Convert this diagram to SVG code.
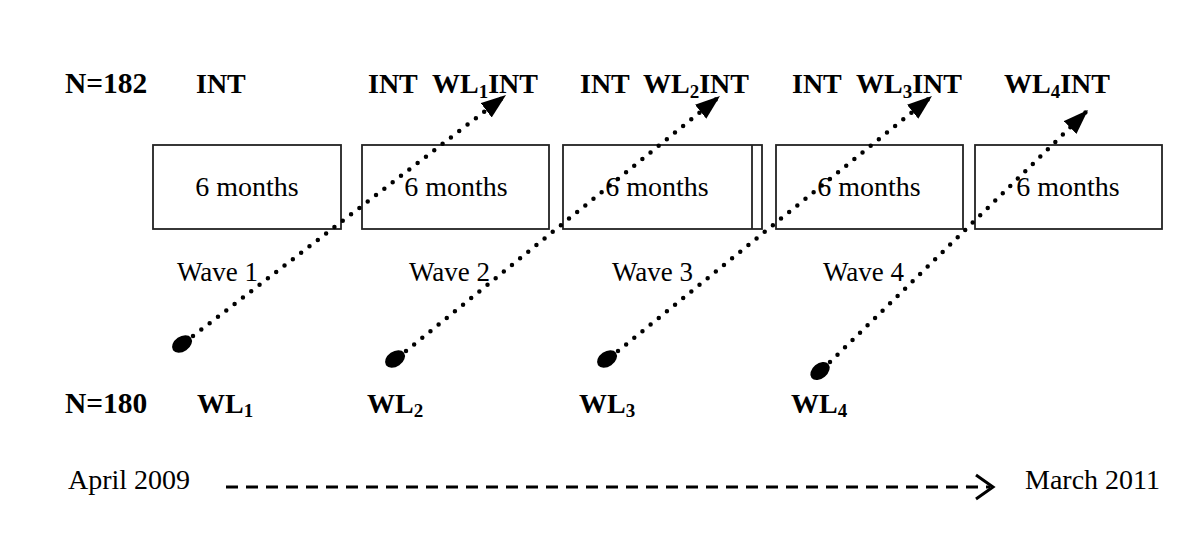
<svg xmlns="http://www.w3.org/2000/svg" width="1200" height="539" viewBox="0 0 1200 539">
<style>
.b{font-family:"Liberation Serif","Times New Roman",serif;font-weight:bold;font-size:28px;fill:#000}
.r{font-family:"Liberation Serif","Times New Roman",serif;font-size:27px;fill:#000}
.m{font-size:28px}
.box{fill:#fff;stroke:#222;stroke-width:1.8}
.dot{fill:none;stroke:#000;stroke-width:4.5;stroke-linecap:round;stroke-dasharray:0 10.5}
.sub{font-size:19px}
</style>
<defs>
<marker id="ah" markerUnits="userSpaceOnUse" markerWidth="28" markerHeight="20" refX="25" refY="9" orient="auto">
<path d="M0,0 L25,9 L0,18 Z" fill="#000"/>
</marker>
</defs>
<rect width="1200" height="539" fill="#fff"/>
<g id="boxes">
<g id="box1"><rect class="box" x="153" y="145" width="188" height="84"/><text class="r m" x="247" y="196" text-anchor="middle">6 months</text></g>
<g id="box2"><rect class="box" x="362" y="145" width="187" height="84"/><text class="r m" x="456" y="196" text-anchor="middle">6 months</text></g>
<g id="box3"><rect class="box" x="563" y="145" width="199" height="84"/><line x1="752" y1="145" x2="752" y2="229" stroke="#222" stroke-width="1.8"/><text class="r m" x="657" y="196" text-anchor="middle">6 months</text></g>
<g id="box4"><rect class="box" x="776" y="145" width="187" height="84"/><text class="r m" x="869" y="196" text-anchor="middle">6 months</text></g>
<g id="box5"><rect class="box" x="975" y="145" width="187" height="84"/><text class="r m" x="1068" y="196" text-anchor="middle">6 months</text></g>
</g>
<g id="top-labels">
<text class="b" x="65" y="93" style="font-size:29.5px">N=182</text>
<text class="b" x="196" y="93">INT</text>
<text class="b" x="368" y="93">INT</text>
<text class="b" x="432" y="93">WL<tspan class="sub" dy="5">1</tspan><tspan dy="-5">INT</tspan></text>
<text class="b" x="580" y="93">INT</text>
<text class="b" x="643" y="93">WL<tspan class="sub" dy="5">2</tspan><tspan dy="-5">INT</tspan></text>
<text class="b" x="792" y="93">INT</text>
<text class="b" x="856" y="93">WL<tspan class="sub" dy="5">3</tspan><tspan dy="-5">INT</tspan></text>
<text class="b" x="1004" y="93">WL<tspan class="sub" dy="5">4</tspan><tspan dy="-5">INT</tspan></text>
</g>
<g id="waves">
<text class="r" x="177" y="281">Wave 1</text>
<text class="r" x="409" y="281">Wave 2</text>
<text class="r" x="612" y="281">Wave 3</text>
<text class="r" x="823" y="281">Wave 4</text>
</g>
<g id="bottom-labels">
<text class="b" x="65" y="413" style="font-size:29.5px">N=180</text>
<text class="b" x="197" y="413">WL<tspan class="sub" dy="4">1</tspan></text>
<text class="b" x="367" y="413">WL<tspan class="sub" dy="4">2</tspan></text>
<text class="b" x="579" y="413">WL<tspan class="sub" dy="4">3</tspan></text>
<text class="b" x="791" y="413">WL<tspan class="sub" dy="4">4</tspan></text>
</g>
<g id="connectors">
<ellipse cx="182" cy="344" rx="11" ry="7.5" transform="rotate(-35 182 344)" fill="#000"/>
<ellipse cx="395" cy="359" rx="11" ry="7.5" transform="rotate(-35 395 359)" fill="#000"/>
<ellipse cx="607" cy="359" rx="11" ry="7.5" transform="rotate(-35 607 359)" fill="#000"/>
<ellipse cx="820" cy="371" rx="11" ry="7.5" transform="rotate(-40 820 371)" fill="#000"/>
<line class="dot" x1="193" y1="336" x2="506" y2="95" marker-end="url(#ah)"/>
<line class="dot" x1="406" y1="351" x2="720" y2="96" marker-end="url(#ah)"/>
<line class="dot" x1="618" y1="351" x2="932" y2="96" marker-end="url(#ah)"/>
<line class="dot" x1="830" y1="362" x2="1088" y2="110" marker-end="url(#ah)"/>
<line x1="226" y1="487" x2="990" y2="487" stroke="#000" stroke-width="3" stroke-dasharray="12 8"/>
<polyline points="976,475 993,487 976,499" fill="none" stroke="#000" stroke-width="3"/>
</g>
<g id="timeline-labels">
<text class="r m" x="68" y="489">April 2009</text>
<text class="r m" x="1025" y="489">March 2011</text>
</g>
</svg>
